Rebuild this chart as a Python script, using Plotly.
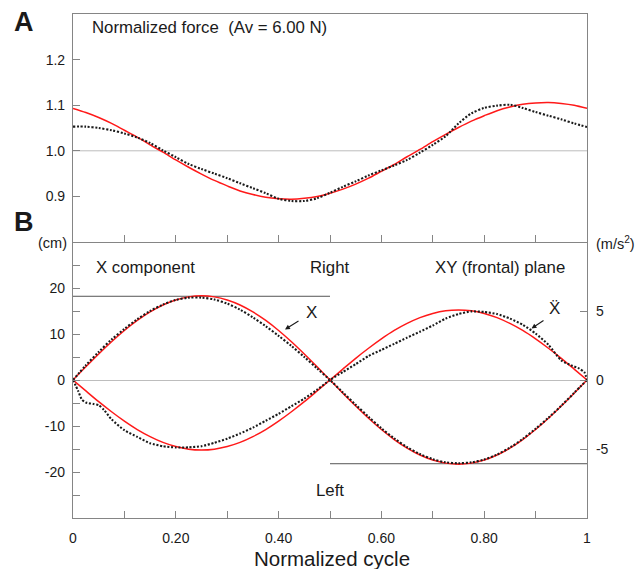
import plotly.graph_objects as go

# ---------------- data ----------------
t_grid = [0, 0.025, 0.05, 0.075, 0.1, 0.125, 0.15, 0.175, 0.2, 0.225, 0.25,
          0.275, 0.3, 0.325, 0.35, 0.375, 0.4, 0.425, 0.45, 0.475, 0.5,
          0.525, 0.55, 0.575, 0.6, 0.625, 0.65, 0.675, 0.7, 0.725, 0.75,
          0.775, 0.8, 0.825, 0.85, 0.875, 0.9, 0.925, 0.95, 0.975, 1.0]

# Panel A: normalized force
force_measured = [1.053, 1.053, 1.050, 1.045, 1.038, 1.029, 1.017, 1.001, 0.986, 0.971, 0.960,
                  0.950, 0.940, 0.929, 0.918, 0.907, 0.895, 0.890, 0.890, 0.896, 0.908,
                  0.921, 0.933, 0.946, 0.957, 0.968, 0.980, 0.996, 1.013, 1.032, 1.060,
                  1.082, 1.094, 1.099, 1.101, 1.094, 1.085, 1.077, 1.069, 1.060, 1.052]
force_fit = [1.093, 1.084, 1.073, 1.060, 1.045, 1.030, 1.013, 0.997, 0.980, 0.964, 0.949,
             0.935, 0.923, 0.912, 0.904, 0.898, 0.895, 0.894, 0.896, 0.900, 0.907,
             0.916, 0.927, 0.940, 0.955, 0.970, 0.987, 1.003, 1.020, 1.036, 1.051,
             1.065, 1.077, 1.088, 1.096, 1.102, 1.105, 1.106, 1.104, 1.100, 1.093]
force_ref_x = [0, 1]
force_ref_y = [1.0, 1.0]

# Panel B: X component (cm, left axis)
x_fit_cm = [0, 2.86, 5.65, 8.31, 10.76, 12.94, 14.80, 16.31, 17.40, 18.07, 18.3,
            18.07, 17.40, 16.31, 14.80, 12.94, 10.76, 8.31, 5.65, 2.86, 0,
            -2.86, -5.65, -8.31, -10.76, -12.94, -14.80, -16.31, -17.40, -18.07, -18.3,
            -18.07, -17.40, -16.31, -14.80, -12.94, -10.76, -8.31, -5.65, -2.86, 0]
x_meas_cm = [0, 3.2, 6.1, 8.8, 11.1, 13.2, 15.0, 16.4, 17.4, 17.9, 17.9,
             17.5, 16.6, 15.3, 13.6, 11.7, 9.6, 7.4, 5.0, 2.5, 0,
             -2.7, -5.4, -8.0, -10.5, -12.7, -14.6, -16.1, -17.2, -17.9, -18.1,
             -17.9, -17.3, -16.2, -14.7, -12.8, -10.6, -8.2, -5.6, -2.8, 0]

# Panel B: X acceleration (m/s^2, right axis)
acc_fit = [0, -0.79, -1.57, -2.30, -2.98, -3.59, -4.10, -4.52, -4.82, -5.01, -5.07,
           -5.01, -4.82, -4.52, -4.10, -3.59, -2.98, -2.30, -1.57, -0.79, 0,
           0.79, 1.57, 2.30, 2.98, 3.59, 4.10, 4.52, 4.82, 5.01, 5.07,
           5.01, 4.82, 4.52, 4.10, 3.59, 2.98, 2.30, 1.57, 0.79, 0]
acc_meas_t = [0, 0.01, 0.017, 0.025, 0.04, 0.05, 0.06, 0.075, 0.1, 0.125, 0.15, 0.175,
              0.2, 0.225, 0.25, 0.275, 0.3, 0.325, 0.35, 0.375, 0.4, 0.425, 0.45,
              0.475, 0.5, 0.525, 0.55, 0.575, 0.6, 0.625, 0.65, 0.675, 0.7, 0.725,
              0.75, 0.775, 0.8, 0.825, 0.85, 0.875, 0.9, 0.925, 0.95, 0.97, 0.985,
              0.995, 1.0]
acc_meas = [0, -0.79, -1.40, -1.63, -1.74, -1.82, -2.15, -2.85, -3.64, -4.12, -4.58, -4.80,
            -4.89, -4.88, -4.80, -4.55, -4.25, -3.88, -3.45, -2.95, -2.45, -1.90, -1.35,
            -0.70, 0, 0.58, 1.15, 1.74, 2.18, 2.62, 3.07, 3.50, 3.95, 4.45,
            4.78, 4.97, 4.93, 4.78, 4.45, 4.00, 3.37, 2.55, 1.42, 1.05, 0.83,
            0.55, 0]

# amplitude reference lines (cm)
amp_right_x = [0, 0.5]
amp_right_y = [18.2, 18.2]
amp_left_x = [0.5, 1.0]
amp_left_y = [-18.2, -18.2]

x_tick_vals = [0, 0.2, 0.4, 0.6, 0.8, 1.0]
x_tick_text = ["0", "0.20", "0.40", "0.60", "0.80", "1"]
x_minor_vals = [0.1, 0.3, 0.5, 0.7, 0.9]
a_tick_vals = [0.9, 1.0, 1.1, 1.2]
a_tick_text = ["0.9", "1.0", "1.1", "1.2"]
cm_tick_vals = [-20, -10, 0, 10, 20]
cm_tick_text = ["-20", "-10", "0", "10", "20"]
cm_minor_vals = [-25, -15, -5, 5, 15, 25]
acc_tick_vals = [-5, 0, 5]
acc_tick_text = ["-5", "0", "5"]

# ---------------- styling ----------------
FONT = "Liberation Sans, Arial, Helvetica, sans-serif"
AXC = "#858585"
RED = "rgb(255,25,25)"
DOT = dict(color="#1a1a1a", width=2.1, dash="2px,1.7px")
W, H = 644, 569
ML, MR, MT, MB = 73, 57, 14, 51
PW, PH = W - ML - MR, H - MT - MB
SPLIT = (H - MB - 242) / PH


def px(x):
    return (x - ML) / PW


def py(y):
    return (H - MB - y) / PH


fig = go.Figure()

# Panel A
fig.add_trace(go.Scatter(x=force_ref_x, y=force_ref_y, mode="lines",
                         line=dict(color="#bdbdbd", width=1), xaxis="x", yaxis="y"))
fig.add_trace(go.Scatter(x=t_grid, y=force_fit, mode="lines",
                         line=dict(color=RED, width=1.5, shape="spline", smoothing=0.8),
                         xaxis="x", yaxis="y"))
fig.add_trace(go.Scatter(x=t_grid, y=force_measured, mode="lines",
                         line=dict(**DOT, shape="spline", smoothing=0.8), xaxis="x", yaxis="y"))

# Panel B
fig.add_trace(go.Scatter(x=amp_right_x, y=amp_right_y, mode="lines",
                         line=dict(color="#555555", width=1), xaxis="x2", yaxis="y2"))
fig.add_trace(go.Scatter(x=amp_left_x, y=amp_left_y, mode="lines",
                         line=dict(color="#555555", width=1), xaxis="x2", yaxis="y2"))
fig.add_trace(go.Scatter(x=t_grid, y=x_fit_cm, mode="lines",
                         line=dict(color=RED, width=1.5, shape="spline", smoothing=0.8),
                         xaxis="x2", yaxis="y2"))
fig.add_trace(go.Scatter(x=t_grid, y=x_meas_cm, mode="lines",
                         line=dict(**DOT, shape="spline", smoothing=0.8), xaxis="x2", yaxis="y2"))
fig.add_trace(go.Scatter(x=t_grid, y=acc_fit, mode="lines",
                         line=dict(color=RED, width=1.5, shape="spline", smoothing=0.8),
                         xaxis="x2", yaxis="y3"))
fig.add_trace(go.Scatter(x=acc_meas_t, y=acc_meas, mode="lines",
                         line=dict(**DOT, shape="spline", smoothing=0.6), xaxis="x2", yaxis="y3"))

tickfont = dict(family=FONT, size=14, color="#1a1a1a")
common = dict(showline=True, linecolor=AXC, linewidth=1.2, ticks="inside", ticklen=7,
              tickcolor=AXC, tickwidth=1.1, showgrid=False, zeroline=False,
              tickfont=tickfont, fixedrange=True, automargin=False)
minor_style = dict(ticks="inside", ticklen=7, tickcolor=AXC, tickwidth=1.1)

xaxis_cfg = dict(common)
xaxis_cfg.update(domain=[0, 1], anchor="y", range=[0, 1], mirror=True,
                 tickvals=[0.1, 0.2, 0.3, 0.4, 0.5, 0.6, 0.7, 0.8, 0.9],
                 showticklabels=False)
yaxis_cfg = dict(common)
yaxis_cfg.update(domain=[SPLIT, 1], anchor="x", range=[0.8, 1.3], mirror=True,
                 tickvals=a_tick_vals, ticktext=a_tick_text, ticklabelstandoff=4)
xaxis2_cfg = dict(common)
xaxis2_cfg.update(domain=[0, 1], anchor="y2", range=[0, 1], mirror=False,
                  tickvals=x_tick_vals, ticktext=x_tick_text, ticklabelstandoff=7,
                  minor=dict(tickvals=x_minor_vals, **minor_style))
yaxis2_cfg = dict(common)
yaxis2_cfg.update(domain=[0, SPLIT], anchor="x2", range=[-30, 30],
                  tickvals=cm_tick_vals, ticktext=cm_tick_text, ticklabelstandoff=4,
                  zeroline=True, zerolinecolor="#bdbdbd", zerolinewidth=1,
                  minor=dict(tickvals=cm_minor_vals, **minor_style))
yaxis3_cfg = dict(common)
yaxis3_cfg.update(overlaying="y2", side="right", anchor="x2", range=[-10, 10],
                  tickvals=acc_tick_vals, ticktext=acc_tick_text, ticklabelstandoff=5)

fig.update_layout(
    width=W, height=H, margin=dict(l=ML, r=MR, t=MT, b=MB, autoexpand=False),
    paper_bgcolor="white", plot_bgcolor="white", showlegend=False,
    font=dict(family=FONT, color="#1a1a1a"),
    xaxis=xaxis_cfg, yaxis=yaxis_cfg, xaxis2=xaxis2_cfg,
    yaxis2=yaxis2_cfg, yaxis3=yaxis3_cfg,
)


def txt(text, x, y, size=17, xanchor="left", bold=False):
    fig.add_annotation(text=f"<b>{text}</b>" if bold else text, xref="paper", yref="paper",
                       x=px(x), y=py(y), xanchor=xanchor, yanchor="middle",
                       showarrow=False, font=dict(family=FONT, size=size, color="#1a1a1a"))


txt("A", 12, 22, size=27, bold=True)
txt("B", 12, 222, size=27, bold=True)
txt("Normalized force \u00a0(Av = 6.00 N)", 90, 27, size=16.8)
txt("(cm)", 36, 243, size=14.5)
txt("(m/s<sup>2</sup>)", 594, 243, size=14.5)
txt("X component", 94, 267, size=16.8)
txt("Right", 308, 267, size=16.8)
txt("XY (frontal) plane", 433, 267, size=16.8)
txt("Left", 314, 490, size=16.8)
txt("X", 311, 312, size=17, xanchor="center")
txt("\u1e8c", 554, 309, size=17, xanchor="center")
txt("Normalized cycle", 332, 558, size=20.5, xanchor="center")

for hx, hy, tx, ty in [(285, 329.5, 300, 320), (531.5, 328.5, 545, 319.5)]:
    fig.add_annotation(text="", xref="paper", yref="paper", x=px(hx), y=py(hy),
                       ax=tx - hx, ay=ty - hy, showarrow=True, arrowhead=2,
                       arrowsize=0.9, arrowwidth=1.1, arrowcolor="#1a1a1a")

fig.write_html("out.html")
